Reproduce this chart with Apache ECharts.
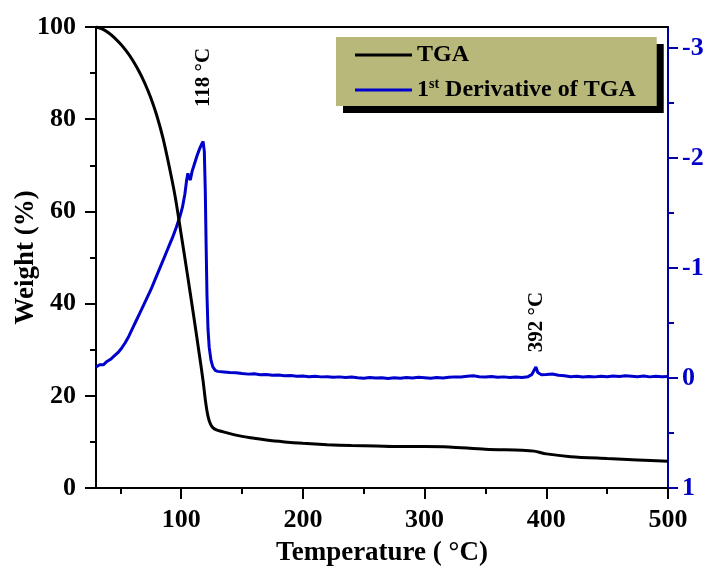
<!DOCTYPE html>
<html>
<head>
<meta charset="utf-8">
<script src="https://cdn.jsdelivr.net/npm/echarts@6/dist/echarts.min.js"></script>
<style>
  html, body { margin: 0; padding: 0; background: #fff; }
  #chart { width: 706px; height: 569px; }
</style>
</head>
<body>
<div id="chart"></div>
<script>
// Temperature (°C) / weight (%) of the TGA trace
const tgaTemp = [30, 35, 40, 45, 50, 55, 60, 65, 70, 75, 80, 85, 90, 95, 100, 105, 110, 115, 118, 120, 122, 124, 126, 129, 133, 140, 150, 160, 170, 185, 200, 220, 240, 260, 280, 300, 320, 350, 380, 390, 400, 420, 450, 475, 500];
const tgaWeight = [100, 99.6, 98.8, 97.7, 96.35, 94.75, 92.85, 90.55, 87.85, 84.65, 80.75, 75.95, 69.95, 63.3, 55.0, 46.5, 37.8, 28.8, 23.2, 18.8, 15.6, 13.9, 13.1, 12.6, 12.3, 11.8, 11.2, 10.8, 10.4, 10.0, 9.7, 9.4, 9.2, 9.1, 9.0, 9.0, 8.9, 8.4, 8.2, 8.0, 7.4, 6.8, 6.4, 6.1, 5.8];

// Temperature (°C) / first derivative of the TGA trace
const dtgTemp = [30, 33, 36, 39, 42, 45, 48, 51, 54, 57, 60, 63, 66, 69, 72, 75, 78, 81, 84, 87, 90, 93, 96, 99, 101, 103, 104.5, 105.5, 106.5, 107.5, 109, 111, 113, 115, 117, 118, 119, 119.8, 120.5, 121.2, 122, 123, 124.5, 126, 128,
  130, 135, 140, 145, 150, 155, 160, 165, 170, 175, 180, 185, 190, 195, 200, 205, 210, 215, 220, 225, 230, 235, 240, 245, 250, 255, 260, 265, 270, 275, 280, 285, 290, 295, 300, 305, 310, 315, 320, 325, 330, 335, 340, 345, 350, 355, 360, 365, 370, 375, 380, 385, 388, 390, 391.5, 393, 396, 400, 405, 410, 415, 420, 425, 430, 435, 440, 445, 450, 455, 460, 465, 470, 475, 480, 485, 490, 495, 500];
const dtgValue = [-0.10, -0.12, -0.12, -0.15, -0.17, -0.20, -0.23, -0.27, -0.32, -0.38, -0.45, -0.52, -0.59, -0.66, -0.73, -0.80, -0.88, -0.96, -1.04, -1.12, -1.20, -1.28, -1.37, -1.47, -1.55, -1.67, -1.80, -1.86, -1.82, -1.80, -1.88, -1.95, -2.02, -2.08, -2.13, -2.15, -2.06, -1.70, -1.20, -0.75, -0.45, -0.28, -0.16, -0.10, -0.07,
  -0.06, -0.055, -0.05, -0.048, -0.04, -0.035, -0.038, -0.03, -0.032, -0.025, -0.028, -0.02, -0.022, -0.015, -0.018, -0.012, -0.015, -0.01, -0.012, -0.006, -0.01, -0.004, -0.008, -0.002, 0.002, -0.004, 0.0, -0.003, 0.004, -0.002, 0.002, -0.004, 0.001, -0.006, -0.002, 0.003, -0.004, 0.0, -0.006, -0.01, -0.008, -0.015, -0.02, -0.012, -0.008, -0.014, -0.006, -0.01, -0.004, -0.008, -0.005, -0.012, -0.03, -0.07, -0.10, -0.05, -0.03, -0.032, -0.036, -0.025, -0.02, -0.012, -0.016, -0.008, -0.014, -0.01, -0.016, -0.012, -0.018, -0.014, -0.02, -0.016, -0.012, -0.018, -0.01, -0.015, -0.012, -0.014];

// Axis ticks
const xMajorTicks = [100, 200, 300, 400, 500];
const xMinorTicks = [50, 150, 250, 350, 450];
const rightMajorTicks = [-3, -2, -1, 0, 1];
const rightMinorTicks = [-2.5, -1.5, -0.5, 0.5];

// Peak annotations: [temperature, label, lift above the peak in px]
const peakNotes = [[118, '118 °C', 64], [392, '392 °C', 45]];

const FONT = '"Liberation Serif", "Times New Roman", serif';
const BLUE = '#0000cc';
const AXIS_BLUE = '#0000a8';

const zip = (xs, ys) => xs.map((x, i) => [x, ys[i]]);
const tgaData = zip(tgaTemp, tgaWeight);
const dtgData = zip(dtgTemp, dtgValue);

const chart = echarts.init(document.getElementById('chart'), null, { renderer: 'canvas' });

const labelFont = { fontFamily: FONT, fontWeight: 'bold', fontSize: 26, color: '#000' };

chart.setOption({
  backgroundColor: '#ffffff',
  animation: false,
  grid: { left: 96, right: 38, top: 27, bottom: 81, containLabel: false, outerBoundsMode: 'none' },
  legend: {
    left: 336, top: 37,
    orient: 'vertical',
    itemWidth: 57, itemHeight: 3, itemGap: 9,
    padding: [5, 21, 3, 19],
    backgroundColor: '#b8b87a',
    borderWidth: 0,
    shadowColor: '#000', shadowBlur: 0, shadowOffsetX: 7, shadowOffsetY: 7,
    icon: 'rect',
    textStyle: {
      fontFamily: FONT, fontWeight: 'bold', fontSize: 24, color: '#000', lineHeight: 26,
      rich: {
        sup: { fontFamily: FONT, fontWeight: 'bold', fontSize: 14, verticalAlign: 'top', lineHeight: 26, padding: [0, 0, 6, 0] },
        n: { fontFamily: FONT, fontWeight: 'bold', fontSize: 24, lineHeight: 26 }
      }
    },
    formatter: (name) => name === '1st Derivative of TGA' ? '{n|1}{sup|st}{n| Derivative of TGA}' : name,
    data: ['TGA', '1st Derivative of TGA']
  },
  xAxis: [
    {
      type: 'value', min: 30, max: 500, position: 'bottom',
      name: 'Temperature ( °C)', nameLocation: 'middle', nameGap: 52, nameMoveOverlap: false,
      nameTextStyle: { fontFamily: FONT, fontWeight: 'bold', fontSize: 27, color: '#000' },
      axisLine: { show: true, onZero: false, lineStyle: { color: '#000', width: 2 } },
      axisTick: { show: true, inside: false, length: 11, lineStyle: { color: '#000', width: 2 }, customValues: xMajorTicks },
      axisLabel: Object.assign({ margin: 19, customValues: xMajorTicks }, labelFont),
      splitLine: { show: false }
    },
    {
      type: 'value', min: 30, max: 500, position: 'top',
      axisLine: { show: true, onZero: false, lineStyle: { color: '#000', width: 2 } },
      axisTick: { show: false }, axisLabel: { show: false }, splitLine: { show: false }
    },
    {
      type: 'value', min: 30, max: 500, position: 'bottom',
      axisLine: { show: false, onZero: false },
      axisTick: { show: true, inside: false, length: 6, lineStyle: { color: '#000', width: 2 }, customValues: xMinorTicks },
      axisLabel: { show: false }, splitLine: { show: false }
    }
  ],
  yAxis: [
    {
      type: 'value', min: 0, max: 100, interval: 20, position: 'left',
      name: 'Weight (%)', nameLocation: 'middle', nameGap: 56, nameMoveOverlap: false,
      nameTextStyle: { fontFamily: FONT, fontWeight: 'bold', fontSize: 27, color: '#000' },
      axisLine: { show: true, onZero: false, lineStyle: { color: '#000', width: 2 } },
      axisTick: { show: true, inside: false, length: 11, lineStyle: { color: '#000', width: 2 } },
      minorTick: { show: true, splitNumber: 2, length: 6, lineStyle: { color: '#000', width: 2 } },
      axisLabel: Object.assign({ margin: 20 }, labelFont),
      splitLine: { show: false }
    },
    {
      type: 'value', min: -3.19, max: 1, inverse: true, position: 'right',
      axisLine: { show: true, onZero: false, lineStyle: { color: AXIS_BLUE, width: 2 } },
      axisTick: { show: true, inside: false, length: 10, lineStyle: { color: AXIS_BLUE, width: 2 }, customValues: rightMajorTicks },
      axisLabel: { margin: 14, customValues: rightMajorTicks, fontFamily: FONT, fontWeight: 'bold', fontSize: 26, color: '#0000c8' },
      splitLine: { show: false }
    },
    {
      type: 'value', min: -3.19, max: 1, inverse: true, position: 'right',
      axisLine: { show: false, onZero: false },
      axisTick: { show: true, inside: false, length: 6, lineStyle: { color: AXIS_BLUE, width: 2 }, customValues: rightMinorTicks },
      axisLabel: { show: false }, splitLine: { show: false }
    }
  ],
  series: [
    {
      name: 'TGA', type: 'line', xAxisIndex: 0, yAxisIndex: 0,
      data: tgaData, showSymbol: false, smooth: 0.3,
      color: '#000', lineStyle: { color: '#000', width: 3 }, z: 3
    },
    {
      name: '1st Derivative of TGA', type: 'line', xAxisIndex: 0, yAxisIndex: 1,
      data: dtgData, showSymbol: false,
      color: BLUE, lineStyle: { color: BLUE, width: 3 }, z: 2
    }
  ]
});

// Vertical peak labels placed above each derivative peak
const peakGraphics = peakNotes.map(([t, text, lift]) => {
  let best = dtgData[0];
  dtgData.forEach((p) => { if (Math.abs(p[0] - t) < Math.abs(best[0] - t)) best = p; });
  const px = chart.convertToPixel({ xAxisIndex: 0, yAxisIndex: 1 }, [t, best[1]]);
  return {
    type: 'text', x: px[0], y: px[1] - lift, rotation: Math.PI / 2,
    style: { text, fontFamily: FONT, fontWeight: 'bold', fontSize: 21, fill: '#000', align: 'center', verticalAlign: 'middle' },
    z: 10
  };
});
chart.setOption({ graphic: peakGraphics });
</script>
</body>
</html>
